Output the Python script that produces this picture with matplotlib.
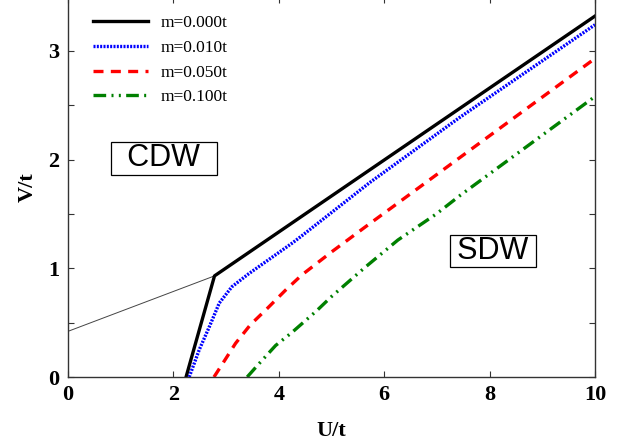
import matplotlib
matplotlib.use("Agg")
import matplotlib.pyplot as plt
from matplotlib.ticker import MultipleLocator

# --- data ---
u_m000 = [2.24, 2.78, 10.0]
v_m000 = [0.0, 0.93, 3.32]

u_guide = [0.0, 2.78]
v_guide = [0.42, 0.93]

u_m010 = [2.30, 2.49, 2.68, 2.87, 3.11, 3.43, 3.81, 4.25, 4.44, 5.73, 7.44, 10.0]
v_m010 = [0.0, 0.25, 0.46, 0.68, 0.83, 0.95, 1.08, 1.23, 1.30, 1.79, 2.39, 3.24]

u_m050 = [2.77, 2.93, 3.18, 3.46, 3.78, 4.13, 4.44, 5.00, 5.64, 6.26, 7.44, 10.0]
v_m050 = [0.0, 0.12, 0.31, 0.48, 0.63, 0.80, 0.94, 1.15, 1.38, 1.60, 2.02, 2.93]

u_m100 = [3.40, 3.62, 3.94, 4.25, 4.72, 5.00, 5.64, 6.26, 6.99, 7.44, 10.0]
v_m100 = [0.0, 0.12, 0.29, 0.41, 0.61, 0.74, 1.01, 1.26, 1.50, 1.67, 2.58]

labels = ["m=0.000t", "m=0.010t", "m=0.050t", "m=0.100t"]

# --- figure ---
fig = plt.figure(figsize=(6.33, 4.44), dpi=100)
ax = fig.add_axes([68 / 633, 67 / 444, 527 / 633, 380.5 / 444])

ax.plot(u_guide, v_guide, color="#444444", lw=0.7)
ax.plot(u_m000, v_m000, color="black", lw=2.4, label=labels[0])
ax.plot(u_m010, v_m010, color="blue", lw=2.4, ls=(0, (0.6, 0.4)), label=labels[1])
ax.plot(u_m050, v_m050, color="red", lw=2.4, ls=(0, (3, 2.2)), label=labels[2])
ax.plot(u_m100, v_m100, color="green", lw=2.4,
        ls=(0, (3.8, 1.6, 0.6, 1.6, 0.6, 1.6)), label=labels[3])

ax.set_xlim(0, 10)
ax.set_ylim(0, 3.5)
ax.xaxis.set_major_locator(MultipleLocator(2))
ax.yaxis.set_major_locator(MultipleLocator(1))
ax.yaxis.set_minor_locator(MultipleLocator(0.5))
ax.tick_params(which="both", direction="in", top=True, right=True,
               length=4, width=0.8, color="#333333",
               labelsize=16, pad=6)
for lab in ax.get_xticklabels() + ax.get_yticklabels():
    lab.set_fontfamily("Liberation Serif")
    lab.set_fontweight("bold")
for sp in ax.spines.values():
    sp.set_color("#333333")
    sp.set_linewidth(1.0)

ax.set_xlabel("U/t", fontsize=16, fontweight="bold", family="Liberation Serif", labelpad=11)
ax.set_ylabel("V/t", fontsize=16, fontweight="bold", family="Liberation Serif", labelpad=8)

ax.text(1.82, 2.01, "\u2002CDW\u2002", fontsize=22, family="Liberation Sans",
        ha="center", va="center",
        bbox=dict(boxstyle="square,pad=0.04", fc="white", ec="black", lw=0.9))
ax.text(8.06, 1.16, "\u2009SDW\u2009", fontsize=22, family="Liberation Sans",
        ha="center", va="center",
        bbox=dict(boxstyle="square,pad=0.04", fc="white", ec="black", lw=0.9))

ax.legend(loc="upper left", bbox_to_anchor=(0.047, 0.952), frameon=False,
          prop={"family": "Liberation Serif", "size": 12.5},
          handlelength=3.2, handletextpad=0.7, labelspacing=0.5,
          borderpad=0, borderaxespad=0)

fig.savefig("out.png", dpi=100)
